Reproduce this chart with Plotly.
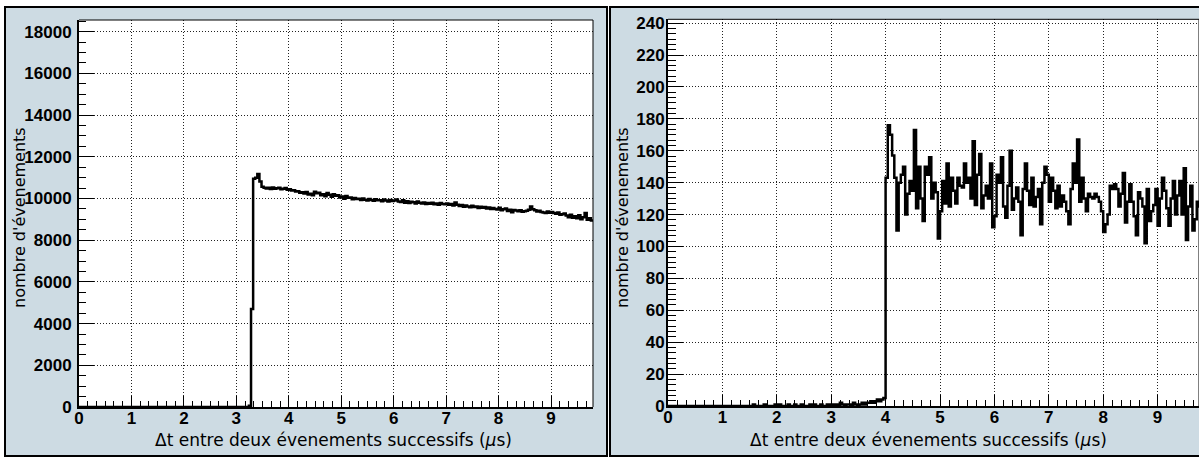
import numpy as np
import plotly.graph_objects as go

# ---------------- data ----------------
BIN_WIDTH = 0.04
X_MAX = 9.8

# Left histogram: zero up to 3.24, then counts per 0.04 bin
left_start = 3.24
left_counts = [
    60, 4700,
    10950, 11000, 11180, 10820, 10560, 10520, 10480, 10510, 10450, 10530, 10470, 10490, 10520, 10440, 10470, 10500, 10420,
    10440, 10380, 10400, 10330, 10350, 10280, 10300, 10240, 10310, 10190, 10230, 10150, 10320, 10250, 10280, 10150, 10200, 10110, 10260, 10180, 10080, 10200, 10130, 10150, 10050,
    10090, 9990, 10120, 10030, 10050, 9960, 10020, 9970, 9990, 9930, 10000, 9940, 9900, 9980, 9930, 9890, 9960, 9910, 9920, 9870, 9950, 9900, 9850, 9930, 9880,
    9900, 9950, 9860, 9830, 9920, 9800, 9870, 9780, 9840, 9820, 9760, 9850, 9790, 9760, 9810, 9740, 9780, 9750, 9790, 9720, 9760, 9700, 9780, 9730, 9720,
    9760, 9700, 9740, 9660, 9810, 9700, 9640, 9690, 9600, 9660, 9620, 9580, 9650, 9590, 9620, 9540, 9600, 9560, 9590, 9520, 9570, 9490, 9540, 9500, 9470,
    9550, 9440, 9480, 9520, 9400, 9460, 9340, 9450, 9420, 9390, 9440, 9360, 9390, 9410, 9460, 9620, 9480, 9430, 9380, 9410, 9350, 9330, 9300, 9370, 9320,
    9350, 9300, 9270, 9330, 9220, 9250, 9280, 9180, 9100, 9220, 9080, 9150, 9050, 9200, 9000, 9100, 9300, 8980, 9050, 8950,
]

# Right histogram: counts per 0.04 bin from 0
right_counts_before4 = (
    [0] * 37
    + [0, 0, 1, 0, 0, 0, 0, 1, 0, 0, 0, 0, 1, 0, 1, 0, 0, 0, 1, 0,
       0, 1, 0, 0, 1, 0, 0, 0, 1, 0, 1, 0, 0, 1, 0, 0, 1, 0]
    + [1, 0, 1, 0, 2, 1, 0, 1, 1, 0, 2, 1, 0, 1, 2]
    + [1, 2, 2, 3, 2, 3, 4, 3, 4, 5]
)
right_counts_after4 = [
    143, 176, 170, 157, 143, 110, 140, 145, 150, 120, 133, 141, 135, 173, 124, 150, 130, 116, 150, 145,
    156, 130, 140, 134, 105, 122, 141, 127, 152, 125, 143, 135, 127, 143, 138, 137, 152, 140, 143, 130,
    166, 126, 145, 158, 124, 132, 138, 130, 152, 112, 119, 145, 140, 156, 125, 118, 138, 160, 123, 130,
    137, 128, 107, 136, 152, 135, 126, 143, 125, 131, 136, 114, 140, 150, 145, 128, 143, 135, 124, 138,
    125, 132, 128, 122, 114, 136, 152, 140, 167, 128, 143, 130, 122, 133, 131, 130, 133, 131, 128, 122,
    109, 114, 120, 138, 136, 139, 136, 125, 133, 146, 115, 128, 139, 128, 119, 107, 134, 130, 125, 102,
    136, 116, 122, 126, 136, 113, 130, 143, 135, 124, 113, 130, 141, 120, 132, 141, 120, 149, 104, 125,
    138, 110, 117, 128, 125,
]
right_counts = right_counts_before4 + right_counts_after4

x_ticks = [0, 1, 2, 3, 4, 5, 6, 7, 8, 9]
left_y_ticks = [0, 2000, 4000, 6000, 8000, 10000, 12000, 14000, 16000, 18000]
right_y_ticks = [0, 20, 40, 60, 80, 100, 120, 140, 160, 180, 200, 220, 240]

x_title = "\u0394t entre deux \u00e9venements successifs (<i>\u03bc</i>s)"
y_title = "nombre d'\u00e9venements"

# ---------------- build step outlines ----------------
def step_xy(start, counts):
    edges = start + BIN_WIDTH * np.arange(len(counts) + 1)
    xs = np.concatenate([[0.0], edges])
    ys = np.concatenate([[0.0], counts, [counts[-1]]])
    return xs, ys

lx, ly = step_xy(left_start, np.array(left_counts, dtype=float))
rx, ry = step_xy(0.0, np.array(right_counts, dtype=float))

W, H = 1199, 457
def px(x):
    return x / W
def py(y):
    return 1 - y / H

PANEL = "#cddbe3"
TICKFONT = dict(family="Liberation Sans", size=17, color="black", weight="bold")
XTITLEFONT = dict(family="DejaVu Sans", size=17, color="black")
YTITLEFONT = dict(family="DejaVu Sans", size=16, color="black")
GRIDDASH = "1px,2px"

L_DOM_X = [79, 593]
L_DOM_Y = [407, 20]
R_DOM_X = [668, 1199]
R_DOM_Y = [406, 19.3]

fig = go.Figure()
fig.add_trace(go.Scatter(x=lx, y=ly, mode="lines", line=dict(color="black", width=2.5, shape="hv"),
                         xaxis="x", yaxis="y", showlegend=False, hoverinfo="skip"))
fig.add_trace(go.Scatter(x=rx, y=ry, mode="lines", line=dict(color="black", width=2.5, shape="hv"),
                         xaxis="x2", yaxis="y2", showlegend=False, hoverinfo="skip"))

common_x = dict(
    tickvals=x_ticks, ticks="inside", ticklen=11, tickwidth=1, tickcolor="black",
    showline=True, linewidth=2, linecolor="black", mirror=False,
    showgrid=True, gridcolor="#222", griddash=GRIDDASH, gridwidth=1, zeroline=False,
    tickfont=TICKFONT, ticklabelstandoff=-5, tickformat="d",
    minor=dict(dtick=1/6, ticks="inside", ticklen=6, tickcolor="black", showgrid=False),
)
common_y = dict(
    ticks="inside", ticklen=15, tickwidth=1, tickcolor="black",
    showline=True, linewidth=2, linecolor="black", mirror=False,
    showgrid=True, gridcolor="#222", griddash=GRIDDASH, gridwidth=1, zeroline=False,
    tickfont=TICKFONT, tickformat="d",
)

fig.update_layout(
    width=W, height=H, margin=dict(l=0, r=0, t=0, b=0, pad=0, autoexpand=False),
    paper_bgcolor="white", plot_bgcolor="white",
    xaxis=dict(domain=[px(L_DOM_X[0]), px(L_DOM_X[1])], range=[0, X_MAX], anchor="y", automargin=False, **common_x),
    yaxis=dict(domain=[py(L_DOM_Y[0]), py(L_DOM_Y[1])], range=[0, 18560], anchor="x", tickvals=left_y_ticks,
               automargin=False, ticklabelstandoff=2,
               minor=dict(dtick=500, ticks="inside", ticklen=7, tickcolor="black", showgrid=False),
               **common_y),
    xaxis2=dict(domain=[px(R_DOM_X[0]), 1.0], range=[0, (W - 668) / 54.4], anchor="y2", automargin=False, **common_x),
    yaxis2=dict(domain=[py(R_DOM_Y[0]), py(R_DOM_Y[1])], range=[0, 242.4], anchor="x2", tickvals=right_y_ticks,
                automargin=False, ticklabelstandoff=-2,
                minor=dict(dtick=20/6, ticks="inside", ticklen=8, tickcolor="black", showgrid=False),
                **common_y),
)

shapes = [
    dict(type="rect", xref="paper", yref="paper", x0=px(5), x1=px(607), y0=py(456), y1=py(7),
         fillcolor=PANEL, line=dict(color="black", width=2), layer="below"),
    dict(type="rect", xref="paper", yref="paper", x0=px(610), x1=1.02, y0=py(456), y1=py(7),
         fillcolor=PANEL, line=dict(color="black", width=2), layer="below"),
    dict(type="rect", xref="paper", yref="paper", x0=px(L_DOM_X[0]), x1=px(L_DOM_X[1]),
         y0=py(L_DOM_Y[0]), y1=py(L_DOM_Y[1]), fillcolor="white", line=dict(width=0), layer="below"),
    dict(type="rect", xref="paper", yref="paper", x0=px(R_DOM_X[0]), x1=1.0,
         y0=py(R_DOM_Y[0]), y1=py(R_DOM_Y[1]), fillcolor="white", line=dict(width=0), layer="below"),
]
for xa, ya in (("x", "y"), ("x2", "y2")):
    shapes.append(dict(type="line", xref=f"{xa} domain", yref=f"{ya} domain", x0=0, x1=1, y0=1, y1=1,
                       line=dict(color="black", width=1)))
    shapes.append(dict(type="line", xref=f"{xa} domain", yref=f"{ya} domain", x0=1, x1=1, y0=0, y1=1,
                       line=dict(color="black", width=1)))
fig.update_layout(shapes=shapes)

annotations = [
    dict(text=x_title, xref="paper", yref="paper", x=px(333), y=py(440), showarrow=False, font=XTITLEFONT,
         xanchor="center", yanchor="middle"),
    dict(text=x_title, xref="paper", yref="paper", x=px(928), y=py(440), showarrow=False, font=XTITLEFONT,
         xanchor="center", yanchor="middle"),
    dict(text=y_title, xref="paper", yref="paper", x=px(19), y=py(218), showarrow=False, font=YTITLEFONT,
         textangle=-90, xanchor="center", yanchor="middle"),
    dict(text=y_title, xref="paper", yref="paper", x=px(622), y=py(218), showarrow=False, font=YTITLEFONT,
         textangle=-90, xanchor="center", yanchor="middle"),
]
fig.update_layout(annotations=annotations)

fig.write_html("out.html", config={"displayModeBar": False},
               post_script="document.body.style.margin='0px';document.body.style.overflow='hidden';")
